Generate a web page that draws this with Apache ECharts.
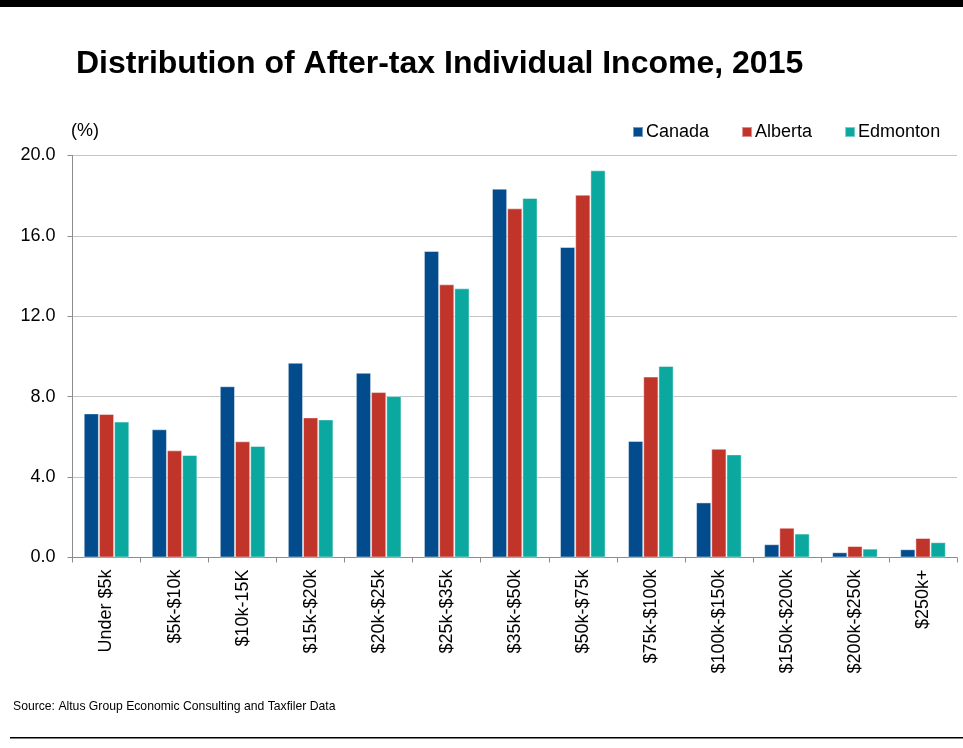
<!DOCTYPE html>
<html>
<head>
<meta charset="utf-8">
<script src="https://cdn.jsdelivr.net/npm/echarts@6/dist/echarts.min.js"></script>
<style>
  html, body { margin: 0; padding: 0; background: #fff; }
  #chart { width: 963px; height: 748px; }
</style>
</head>
<body>
<div id="chart"></div>
<script>
// Income brackets (after-tax individual income)
const categories = ['Under $5k', '$5k-$10k', '$10k-15K', '$15k-$20k', '$20k-$25k', '$25k-$35k',
  '$35k-$50k', '$50k-$75k', '$75k-$100k', '$100k-$150k', '$150k-$200k', '$200k-$250k', '$250k+'];

// Share of individuals in each bracket (%)
const canada   = [7.17, 6.38, 8.52, 9.69, 9.19, 15.25, 18.35, 15.45, 5.80, 2.74, 0.66, 0.26, 0.41];
const alberta  = [7.14, 5.33, 5.78, 6.97, 8.23, 13.59, 17.37, 18.05, 9.00, 5.41, 1.48, 0.57, 0.97];
const edmonton = [6.76, 5.10, 5.55, 6.87, 8.03, 13.39, 17.89, 19.26, 9.53, 5.13, 1.19, 0.44, 0.76];

const yTicks = [0, 4, 8, 12, 16, 20];

const FONT = '"Liberation Sans", Arial, Helvetica, sans-serif';
const chart = echarts.init(document.getElementById('chart'), null, { renderer: 'canvas' });

function barSeries(name, data, color) {
  return {
    name: name,
    type: 'bar',
    data: data,
    barGap: '0%',
    barCategoryGap: '33%',
    itemStyle: { color: color, borderColor: 'rgba(255,255,255,0.45)', borderWidth: 1 },
    animation: false
  };
}

chart.setOption({
  backgroundColor: '#ffffff',
  animation: false,
  title: {
    text: 'Distribution of After-tax Individual Income, 2015',
    left: 71,
    top: 43,
    textStyle: { fontFamily: FONT, fontSize: 32, fontWeight: 'bold', color: '#000' }
  },
  legend: {
    data: ['Canada', 'Alberta', 'Edmonton'],
    left: 627,
    top: 118,
    icon: 'rect',
    itemWidth: 10,
    itemHeight: 10,
    itemGap: 32,
    textStyle: { fontFamily: FONT, fontSize: 18, color: '#000', padding: [0, 0, 0, -2] }
  },
  grid: { left: 72.5, right: 6, top: 155.5, bottom: 190.5, containLabel: false },
  xAxis: {
    type: 'category',
    data: categories,
    boundaryGap: true,
    axisLine: { lineStyle: { color: '#8c8c8c', width: 1 } },
    axisTick: { show: true, length: 5, lineStyle: { color: '#8c8c8c' } },
    axisLabel: {
      rotate: 90,
      interval: 0,
      margin: 12,
      fontFamily: FONT,
      fontSize: 18,
      color: '#000'
    }
  },
  yAxis: {
    type: 'value',
    min: yTicks[0],
    max: yTicks[yTicks.length - 1],
    interval: 4,
    axisLine: { show: true, lineStyle: { color: '#8c8c8c', width: 1 } },
    axisTick: { show: true, length: 5, lineStyle: { color: '#8c8c8c' } },
    axisLabel: {
      margin: 17,
      fontFamily: FONT,
      fontSize: 18,
      color: '#000',
      formatter: v => v.toFixed(1)
    },
    splitLine: { show: true, lineStyle: { color: '#8a8a8a', type: [1, 1], width: 1 } }
  },
  graphic: [
    { type: 'rect', shape: { x: 0, y: 0, width: 963, height: 7 }, style: { fill: '#000' } },
    { type: 'rect', shape: { x: 10, y: 737, width: 953, height: 1.5 }, style: { fill: '#000' } },
    {
      type: 'text', left: 71, top: 122,
      style: { text: '(%)', font: '18px ' + FONT, fill: '#000' }
    },
    {
      type: 'text', left: 13, top: 701,
      style: { text: 'Source: Altus Group Economic Consulting and Taxfiler Data', font: '12.2px ' + FONT, fill: '#000' }
    }
  ],
  series: [
    barSeries('Canada', canada, '#024C8E'),
    barSeries('Alberta', alberta, '#C0342A'),
    barSeries('Edmonton', edmonton, '#0AA89E')
  ]
});
</script>
</body>
</html>
